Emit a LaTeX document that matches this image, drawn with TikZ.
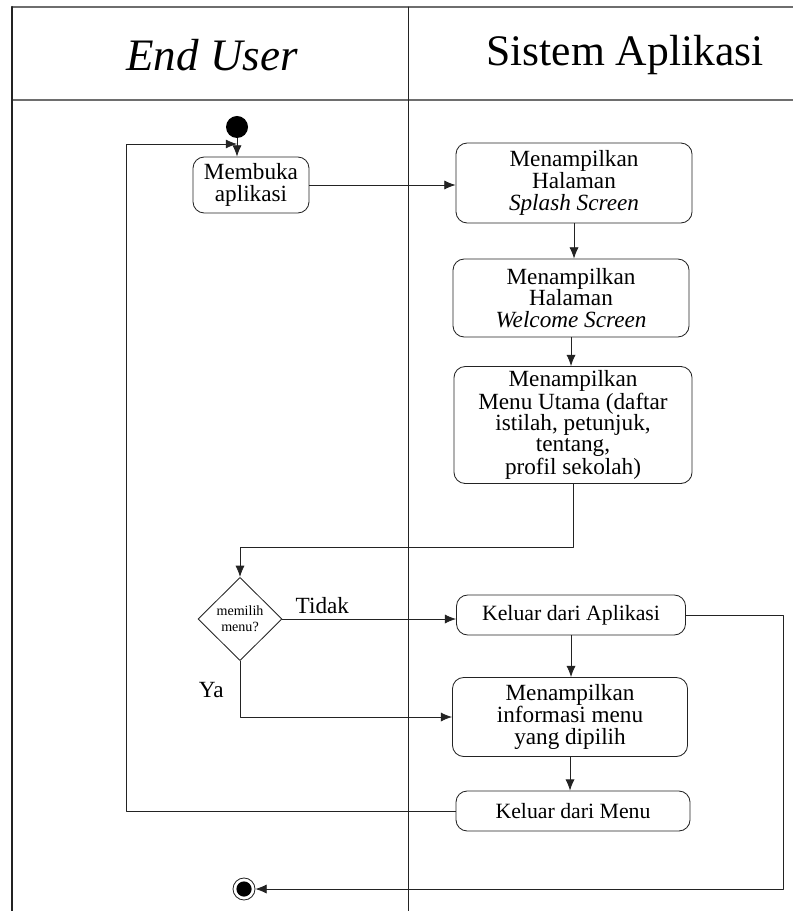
\documentclass[tikz,border=0pt]{standalone}
\usepackage{fontspec}
\setmainfont{Liberation Serif}
\usetikzlibrary{arrows.meta,shapes.geometric}

\begin{document}
\begin{tikzpicture}[x=0.025cm,y=-0.025cm,>={Latex[length=8pt,width=6.5pt]},line cap=round,line join=round]

% Colors
\definecolor{laneline}{RGB}{35,35,35}
\definecolor{headline}{RGB}{110,110,110}

% Styles
\tikzset{
  lanetitle/.style={font=\fontsize{31}{36}\selectfont},
  actbox/.style={draw=laneline,rounded corners=8pt,line width=0.6pt,align=center,inner sep=2pt,font=\fontsize{16.5}{15.5}\selectfont},
  actsmall/.style={actbox,font=\fontsize{15.5}{15.5}\selectfont},
  choicebox/.style={draw=laneline,diamond,line width=0.6pt,inner sep=0pt,minimum width=2.1cm,minimum height=2.08cm,align=center,font=\fontsize{10}{11.5}\selectfont},
  flowlabel/.style={font=\fontsize{16.5}{16.5}\selectfont},
  flow/.style={draw=laneline,line width=0.6pt,->}
}

\useasboundingbox (0,0) rectangle (793,911);

% Swimlane frame
\draw[draw=headline,line width=1.2pt] (12,7) -- (793,7);
\draw[draw=headline,line width=1.2pt] (12,100) -- (793,100);
\draw[draw=laneline,line width=1.6pt] (12,7) -- (12,911);
\draw[draw=laneline,line width=0.6pt] (408,7) -- (408,911);

% Lane titles
\node[lanetitle,font=\fontsize{32}{36}\selectfont\itshape] (userlane) at (212,55) {End User};
\node[lanetitle] (systemlane) at (625,55) {Sistem Aplikasi};

% Start and end
\node[circle,fill=black,inner sep=0pt,minimum size=0.55cm] (start) at (237,127) {};
\node[circle,draw=laneline,line width=0.6pt,inner sep=0pt,minimum size=0.55cm,
  path picture={\fill (path picture bounding box.center) circle (0.19cm);}] (finish) at (244,889) {};

% Activities
\node[actbox,minimum width=2.9cm,minimum height=1.4cm] (membuka) at (251,185) {Membuka\\aplikasi};
\node[actbox,minimum width=5.9cm,minimum height=2cm] (splash) at (574,183) {Menampilkan\\Halaman\\\textit{Splash Screen}};
\node[actbox,minimum width=5.9cm,minimum height=1.95cm] (welcome) at (571,298) {Menampilkan\\Halaman\\\textit{Welcome Screen}};
\node[actbox,minimum width=5.95cm,minimum height=2.925cm,font=\fontsize{16.5}{15}\selectfont] (menu) at (573,425) {Menampilkan\\Menu Utama (daftar\\istilah, petunjuk,\\tentang,\\profil sekolah)};
\node[choicebox] (choice) at (240,619) {memilih\\menu?};
\node[actsmall,minimum width=5.725cm,minimum height=1cm] (keluarapp) at (571,615) {Keluar dari Aplikasi};
\node[actbox,minimum width=5.875cm,minimum height=1.975cm] (info) at (570,717) {Menampilkan\\informasi menu\\yang dipilih};
\node[actsmall,minimum width=5.85cm,minimum height=1cm] (keluarmenu) at (573,811) {Keluar dari Menu};

% Loose ends of the connectors
\coordinate (loopleft) at (126,144);
\coordinate (loopin) at (237,144);
\coordinate (rightdown) at (783,889);

% Connectors
\draw[flow] (start) -- (start |- membuka.north);
\draw[flow] (keluarmenu.west) -| (loopleft) -- (loopin);
\draw[flow] (membuka.east) -- (membuka.east -| splash.west);
\draw[flow] (splash.south) -- (splash.south |- welcome.north);
\draw[flow] (welcome.south) -- (welcome.south |- menu.north);
\draw[flow] (menu.south) -- ++(0,63) -| (choice.north);
\draw[flow] (choice.east) -- node[flowlabel,above,pos=0.23] (tidak) {Tidak} (choice.east -| keluarapp.west);
\draw[flow] (choice.south) |- node[flowlabel,pos=0.26,left=8pt] (ya) {Ya} (info.west);
\draw[flow] (keluarapp.south) -- (keluarapp.south |- info.north);
\draw[flow] (info.south) -- (info.south |- keluarmenu.north);
\draw[flow] (keluarapp.east) -| (rightdown) -- (finish.east);

\end{tikzpicture}
\end{document}
